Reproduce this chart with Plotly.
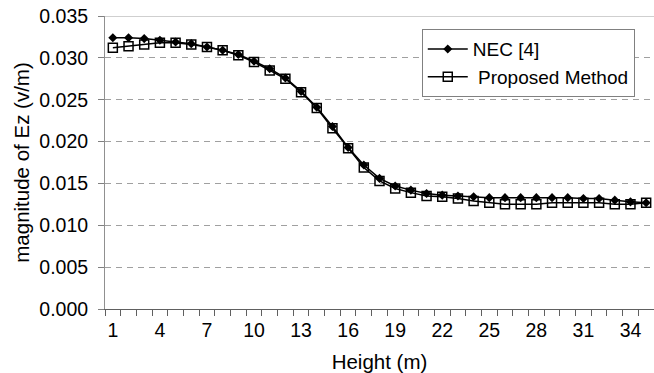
import plotly.graph_objects as go

heights = [1, 2, 3, 4, 5, 6, 7, 8, 9, 10, 11, 12, 13, 14, 15, 16, 17, 18,
           19, 20, 21, 22, 23, 24, 25, 26, 27, 28, 29, 30, 31, 32, 33, 34, 35]

nec = [0.0324, 0.0324, 0.0323, 0.0321, 0.0319, 0.0317, 0.0313, 0.0309, 0.0304,
       0.0296, 0.0287, 0.0276, 0.0260, 0.0241, 0.0218, 0.0193, 0.0172, 0.0156,
       0.0147, 0.0142, 0.0138, 0.0136, 0.0135, 0.0134, 0.0133, 0.0133, 0.0133,
       0.0133, 0.0133, 0.0133, 0.0132, 0.0132, 0.0130, 0.0128, 0.0127]

proposed = [0.0312, 0.0314, 0.0316, 0.0318, 0.0318, 0.0316, 0.0313, 0.0309, 0.0303,
            0.0295, 0.0285, 0.0275, 0.0259, 0.0240, 0.0216, 0.0192, 0.0169, 0.0153,
            0.0144, 0.0139, 0.0135, 0.0134, 0.0132, 0.0129, 0.0127, 0.0125, 0.0125,
            0.0125, 0.0127, 0.0127, 0.0127, 0.0127, 0.0125, 0.0125, 0.0127]

x_tickvals = [1, 4, 7, 10, 13, 16, 19, 22, 25, 28, 31, 34]
x_ticktext = ["1", "4", "7", "10", "13", "16", "19", "22", "25", "28", "31", "34"]
y_tickvals = [0.0, 0.005, 0.010, 0.015, 0.020, 0.025, 0.030, 0.035]

FONT = "Liberation Sans, Arial, sans-serif"

fig = go.Figure()
fig.add_trace(go.Scatter(
    x=heights, y=nec, mode="lines+markers", name="NEC [4]",
    line=dict(color="black", width=1.5),
    marker=dict(symbol="diamond", size=7, color="black"),
    legendgroup="a",
))
fig.add_trace(go.Scatter(
    x=heights, y=proposed, mode="lines+markers", name=" Proposed Method",
    line=dict(color="black", width=1.5),
    marker=dict(symbol="square-open", size=9, color="black", line=dict(width=1.5)),
    legendgroup="b",
))

fig.add_shape(type="line", xref="paper", yref="y", x0=0, x1=1, y0=0.035, y1=0.035,
              line=dict(color="#a0a0a0", width=1))

fig.update_layout(
    width=654, height=373,
    margin=dict(l=105, r=0, t=16, b=64),
    paper_bgcolor="white", plot_bgcolor="white",
    font=dict(family=FONT, color="black", size=19.5),
    showlegend=True,
    legend=dict(
        x=0.577, y=0.955, xanchor="left", yanchor="top",
        bgcolor="white", bordercolor="#808080", borderwidth=1,
        font=dict(family=FONT, size=19, color="black"),
        tracegroupgap=0, traceorder="grouped", itemwidth=40,
    ),
    xaxis=dict(
        range=[0.5, 35.5], tickmode="array", tickvals=x_tickvals, ticktext=x_ticktext,
        ticks="", showgrid=False, zeroline=False,
        showline=True, linecolor="#606060", linewidth=1,
        ticklabelstandoff=4,
        minor=dict(ticks="outside", tick0=0.5, dtick=1, ticklen=6,
                   tickcolor="#606060", tickwidth=1, showgrid=False),
        title=dict(text="Height (m)", font=dict(size=20.5), standoff=17),
        tickfont=dict(size=19.5),
    ),
    yaxis=dict(
        range=[0, 0.035], tickmode="array", tickvals=y_tickvals, tickformat=".3f",
        ticks="outside", ticklen=6, tickcolor="#808080", tickwidth=1,
        showgrid=True, gridcolor="#a0a0a0", gridwidth=1, griddash="6px,5px",
        zeroline=False, showline=True, linecolor="#909090", linewidth=1,
        ticklabelstandoff=6,
        title=dict(text="magnitude of Ez (v/m)", font=dict(size=20.5), standoff=4),
        tickfont=dict(size=19.5),
    ),
)

fig.write_html("out.html")
